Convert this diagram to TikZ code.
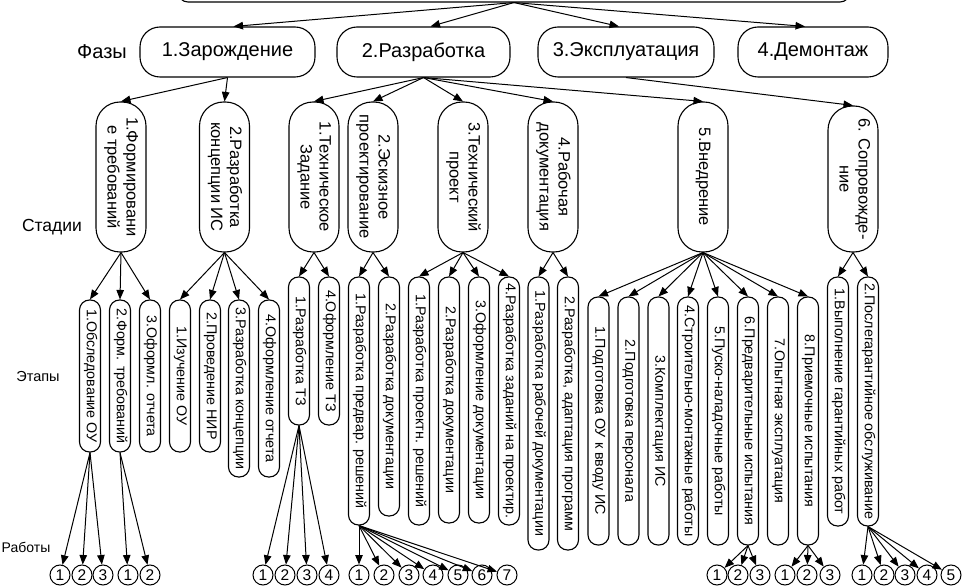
\documentclass[tikz,border=0pt]{standalone}
\usepackage{fontspec}
\setmainfont{Liberation Sans}
\usepackage{graphicx}
\usetikzlibrary{arrows.meta}
\newcommand{\rottxt}[1]{\rotatebox{-90}{\begin{tabular}{@{}c@{}}#1\end{tabular}}}
\begin{document}
\begin{tikzpicture}[x=1pt,y=-1pt,
  conn/.style={draw=black, line width=1pt, -{Triangle[length=9.5pt,width=7.5pt]}},
  topbox/.style={draw, line width=1.1pt, rounded corners=10pt, minimum width=672pt, minimum height=60pt, inner sep=0pt},
  phase/.style={draw, line width=1.1pt, rounded corners=20pt, minimum height=50pt, inner sep=0pt, font=\fontsize{20}{24}\selectfont},
  stagebox/.style={draw, line width=1.1pt, rounded corners=24pt, minimum width=50pt, minimum height=150pt, inner sep=0pt, font=\fontsize{16.5}{19}\selectfont},
  etap/.style={draw, line width=1.1pt, rounded corners=10pt, minimum width=21pt, inner sep=0pt, font=\fontsize{14.3}{16}\selectfont},
  work/.style={draw, circle, line width=1pt, minimum size=20pt, inner sep=0pt, font=\fontsize{15.5}{16}\selectfont},
  lbl/.style={inner sep=0pt}
]
\path[use as bounding box] (0,0) rectangle (970,588);
\clip (0,0) rectangle (970,588);

% top box
\node[topbox] (top) at (514,-28) {};

% labels
\node[lbl, font=\fontsize{20}{24}\selectfont] (lf) at (102,52) {Фазы};
\node[lbl, font=\fontsize{17.5}{20}\selectfont] (ls) at (52,227) {Стадии};
\node[lbl, font=\fontsize{14.5}{17}\selectfont] (le) at (38,377) {Этапы};
\node[lbl, font=\fontsize{14}{17}\selectfont] (lw) at (26,547) {Работы};

% phases
\node[phase, minimum width=175pt] (z) at (227.5,52) {1.Зарождение};
\node[phase, minimum width=173pt] (r) at (423.5,52) {2.Разработка};
\node[phase, minimum width=176pt] (e) at (626,52) {3.Эксплуатация};
\node[phase, minimum width=150pt] (d) at (813,52) {4.Демонтаж};

\draw[conn] (top.south) -- ([xshift=6pt]z.north);
\draw[conn] (top.south) -- ([xshift=7pt]r.north);
\draw[conn] (top.south) -- ([xshift=-7pt]e.north);
\draw[conn] (top.south) -- ([xshift=-8pt]d.north);

% stages
\node[stagebox] (s1) at (121,177) {\rottxt{1.Формировани\\е требований}};
\node[stagebox] (s2) at (224.5,177) {\rottxt{2.Разработка\\концепции ИС}};
\node[stagebox] (s3) at (314,177) {\rottxt{1.Техническое\\Задание}};
\node[stagebox] (s4) at (373,177) {\rottxt{2.Эскизное\\проектирование}};
\node[stagebox] (s5) at (463,177) {\rottxt{3.Технический\\проект}};
\node[stagebox] (s6) at (553,177) {\rottxt{4.Рабочая\\документация}};
\node[stagebox] (s7) at (703,177) {\rottxt{5.Внедрение}};
\node[stagebox, minimum height=146pt] (s8) at (853,179) {\rottxt{6. Сопровожде-\\ние}};

\foreach \n in {s1,s2} \draw[conn] (z.south) -- (\n.north);
\foreach \n in {s3,s4,s5,s6,s7} \draw[conn] (r.south) -- (\n.north);
\draw[conn] (e.south) -- (s8.north);

% etaps
\node[etap, minimum height=152pt] (e11) at (90,376) {\rottxt{1.Обследование ОУ}};
\node[etap, minimum height=152pt] (e12) at (120,376) {\rottxt{2.Форм. требований}};
\node[etap, minimum height=152pt] (e13) at (150,376) {\rottxt{3.Оформл. отчета}};
\node[etap, minimum height=152pt] (e21) at (180,376) {\rottxt{1.Изучение ОУ}};
\node[etap, minimum height=152pt] (e22) at (210,376) {\rottxt{2.Проведение НИР}};
\node[etap, minimum height=177pt] (e23) at (239,388.5) {\rottxt{3.Разработка концепции}};
\node[etap, minimum height=177pt] (e24) at (269,388.5) {\rottxt{4.Оформление отчета}};
\node[etap, minimum height=148pt] (e31) at (299,351) {\rottxt{1.Разработка ТЗ}};
\node[etap, minimum height=148pt] (e32) at (329,351) {\rottxt{4.Оформление ТЗ}};
\node[etap, minimum height=248pt] (e41) at (359,401) {\rottxt{1.Разработка предвар. решений}};
\node[etap, minimum height=239pt] (e42) at (389,396.5) {\rottxt{2.Разработка документации}};
\node[etap, minimum height=248pt] (e51) at (419,401) {\rottxt{1.Разработка проектн. решений}};
\node[etap, minimum height=246pt] (e52) at (449,400) {\rottxt{2.Разработка документации}};
\node[etap, minimum height=246pt] (e53) at (479,400) {\rottxt{3.Оформление документации}};
\node[etap, minimum height=248pt] (e54) at (509,401) {\rottxt{4.Разработка заданий на проектир.}};
\node[etap, minimum height=273pt] (e61) at (538.5,413.5) {\rottxt{1.Разработка рабочей документации}};
\node[etap, minimum height=273pt] (e62) at (568,413.5) {\rottxt{2.Разработка, адаптация программ}};
\node[etap, minimum height=248pt] (e71) at (598.5,421) {\rottxt{1.Подготовка ОУ к вводу ИС}};
\node[etap, minimum height=248pt] (e72) at (628.5,421) {\rottxt{2.Подготовка персонала}};
\node[etap, minimum height=248pt] (e73) at (658.5,421) {\rottxt{3.Комплектация ИС}};
\node[etap, minimum height=248pt] (e74) at (688,421) {\rottxt{4.Строительно-монтажные работы}};
\node[etap, minimum height=248pt] (e75) at (718,421) {\rottxt{5.Пуско-наладочные работы}};
\node[etap, minimum height=248pt] (e76) at (748,421) {\rottxt{6.Предварительные испытания}};
\node[etap, minimum height=248pt] (e77) at (778,421) {\rottxt{7.Опытная эксплуатация}};
\node[etap, minimum height=248pt] (e78) at (808,421) {\rottxt{8.Приемочные испытания}};
\node[etap, minimum height=249pt] (e81) at (838,401.5) {\rottxt{1.Выполнение гарантийных работ}};
\node[etap, minimum height=249pt] (e82) at (868,401.5) {\rottxt{2.Послегарантийное обслуживание}};

\foreach \n in {e11,e12,e13} \draw[conn] (s1.south) -- (\n.north);
\foreach \n in {e21,e22,e23,e24} \draw[conn] (s2.south) -- (\n.north);
\foreach \n in {e31,e32} \draw[conn] (s3.south) -- (\n.north);
\foreach \n in {e41,e42} \draw[conn] (s4.south) -- (\n.north);
\foreach \n in {e51,e52,e53,e54} \draw[conn] (s5.south) -- (\n.north);
\foreach \n in {e61,e62} \draw[conn] (s6.south) -- (\n.north);
\foreach \n in {e71,e72,e73,e74,e75,e76,e77,e78} \draw[conn] (s7.south) -- (\n.north);
\foreach \n in {e81,e82} \draw[conn] (s8.south) -- (\n.north);

% works
\foreach \x/\n/\l in {60/a1/1, 82/a2/2, 103/a3/3, 128/a4/1, 150/a5/2,
  263/b1/1, 285/b2/2, 307/b3/3, 329/b4/4,
  359/c1/1, 384/c2/2, 409/c3/3, 433/c4/4, 458/c5/5, 482/c6/6, 507/c7/7,
  717/d1/1, 738/d2/2, 760/d3/3,
  785/f1/1, 807/f2/2, 830/f3/3,
  862/g1/1, 884/g2/2, 905/g3/3, 927/g4/4, 951/g5/5}
  \node[work] (\n) at (\x,575) {\l};

\foreach \n in {a1,a2,a3} \draw[conn] (e11.south) -- (\n);
\foreach \n in {a4,a5} \draw[conn] (e12.south) -- (\n);
\foreach \n in {b1,b2,b3,b4} \draw[conn] (e31.south) -- (\n);
\foreach \n in {c1,c2,c3,c4,c5,c6,c7} \draw[conn] (e41.south) -- (\n);
\foreach \n in {d1,d2,d3} \draw[conn] (e76.south) -- (\n);
\foreach \n in {f1,f2,f3} \draw[conn] (e78.south) -- (\n);
\foreach \n in {g1,g2,g3,g4,g5} \draw[conn] (e82.south) -- (\n);
\end{tikzpicture}
\end{document}
